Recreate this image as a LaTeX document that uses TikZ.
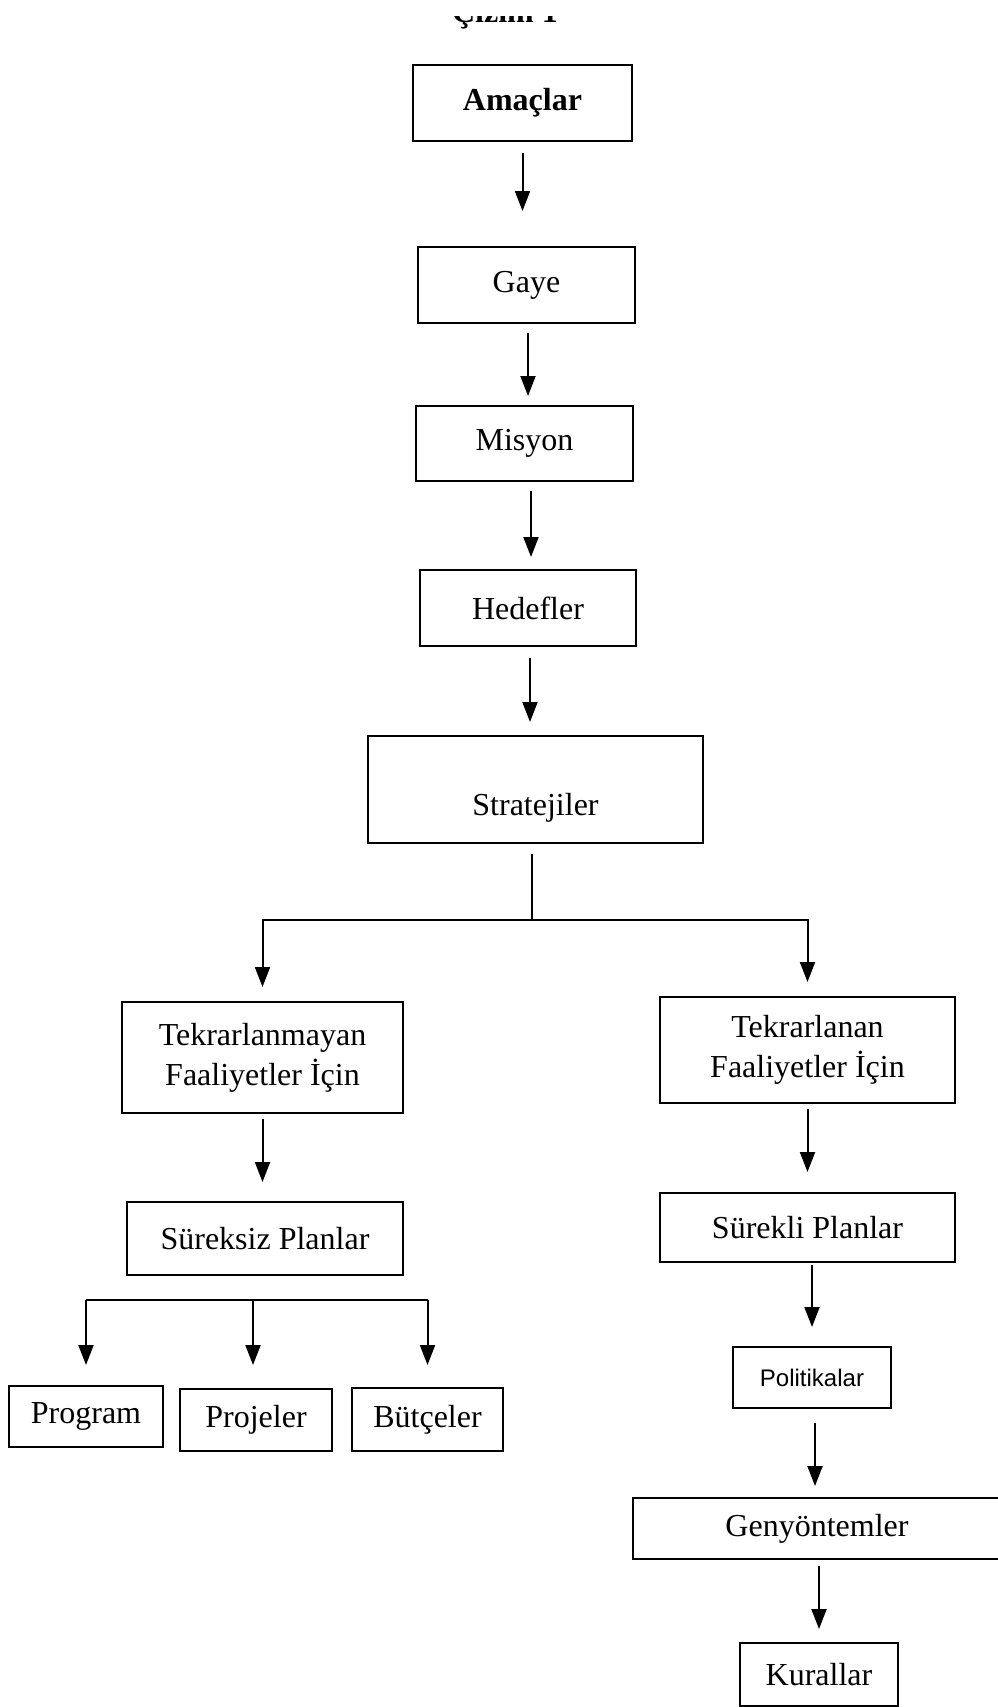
\documentclass[tikz,border=0pt]{standalone}
\usepackage{fontspec}
\setmainfont{Liberation Serif}
\newfontfamily\polfont{Liberation Sans}
\usetikzlibrary{arrows.meta,calc}
\begin{document}
\begin{tikzpicture}[x=0.5pt,y=-0.5pt,
  box/.style={draw,line width=1pt,inner sep=0pt,align=center,font=\fontsize{16}{20}\selectfont},
  arr/.style={line width=1pt,-{Triangle[width=7.5pt,length=10pt]}},
  ln/.style={line width=1pt}]
\useasboundingbox (0,0) rectangle (997,1707);

% title (cut off at the top in the scan)
\begin{scope}
\clip (0,17) rectangle (997,40);
\node[anchor=base,inner sep=0pt,font=\bfseries\fontsize{16}{20}\selectfont] (title) at (505,23) {Çizim 1};
\end{scope}

% boxes
\node[box,minimum width=109.5pt,minimum height=38pt,font=\bfseries\fontsize{16}{20}\selectfont] (amac) at (522.5,103) {Amaçlar};
\node[box,minimum width=108.5pt,minimum height=38pt] (gaye) at (526.5,285) {Gaye};
\node[box,minimum width=108.5pt,minimum height=37.5pt] (misyon) at (524.5,443.5) {Misyon};
\node[box,minimum width=108pt,minimum height=38pt] (hedef) at (528,608) {Hedefler};
\node[box,minimum width=167.5pt,text height=39.8pt,text depth=13.7pt] (strat) at (535.5,789.5) {Stratejiler};

\node[box,minimum width=140.5pt,minimum height=55.5pt] (tekm) at (262.5,1057.5) {Tekrarlanmayan\\Faaliyetler İçin};
\node[box,minimum width=147.5pt,minimum height=53pt] (tek) at (807.5,1050) {Tekrarlanan\\Faaliyetler İçin};

\node[box,minimum width=138pt,minimum height=36.5pt] (surz) at (265,1238.5) {Süreksiz Planlar};
\node[box,minimum width=147.5pt,minimum height=34.5pt] (surk) at (807.5,1227.5) {Sürekli Planlar};

\node[box,minimum width=77pt,minimum height=30.5pt] (prog) at (86,1416.5) {Program};
\node[box,minimum width=76pt,minimum height=31pt] (proj) at (256,1420) {Projeler};
\node[box,minimum width=75.5pt,minimum height=31.5pt] (butce) at (427.5,1419.5) {Bütçeler};

\node[box,minimum width=79pt,minimum height=30.5pt,font=\polfont\fontsize{12}{14}\selectfont] (polit) at (812,1377.5) {Politikalar};
\node[box,minimum width=184pt,minimum height=30.5pt] (geny) at (817,1528.5) {Genyöntemler};
\node[box,minimum width=79pt,minimum height=31.5pt] (kural) at (819,1674.5) {Kurallar};

% vertical chain
\draw[arr,shorten <=5.5pt,shorten >=17.5pt] (amac.south) -- (amac.south |- gaye.north);
\draw[arr,shorten <=4.5pt,shorten >=4.5pt] ([xshift=0.75pt]gaye.south) -- ([xshift=0.75pt]gaye.south |- misyon.north);
\draw[arr,shorten <=4.5pt,shorten >=6pt] ([xshift=3.25pt]misyon.south) -- ([xshift=3.25pt]misyon.south |- hedef.north);
\draw[arr,shorten <=5.5pt,shorten >=6.5pt] ([xshift=1pt]hedef.south) -- ([xshift=1pt]hedef.south |- strat.north);

% split below Stratejiler
\coordinate (split) at (532,920);
\draw[ln] ([xshift=-1.75pt,yshift=-5pt]strat.south) -- (split);
\draw[arr,shorten >=7pt] (split) -| (tekm.north);
\draw[arr,shorten >=7pt] (split) -| (tek.north);

\draw[arr,shorten <=2.5pt,shorten >=9.5pt] (tekm.south) -- (tekm.south |- surz.north);
\draw[arr,shorten <=2.5pt,shorten >=10pt] (tek.south) -- (tek.south |- surk.north);

% bracket to the three plans
\coordinate (br) at (253,1300);
\draw[ln] (br -| prog.north) -- (br -| butce.north);
\draw[arr,shorten >=10pt] (br -| prog.north) -- (prog.north);
\draw[arr,shorten >=11.5pt] (br) -- (br |- proj.north);
\draw[arr,shorten >=11pt] (br -| butce.north) -- (butce.north);

% right chain
\draw[arr,shorten <=1pt,shorten >=9.5pt] (polit.north |- surk.south) -- (polit.north);
\draw[arr,shorten <=7pt,shorten >=5.5pt] ([xshift=1.5pt]polit.south) -- ([xshift=1.5pt]polit.south |- geny.north);
\draw[arr,shorten <=3pt,shorten >=6.5pt] (kural.north |- geny.south) -- (kural.north);
\end{tikzpicture}
\end{document}
